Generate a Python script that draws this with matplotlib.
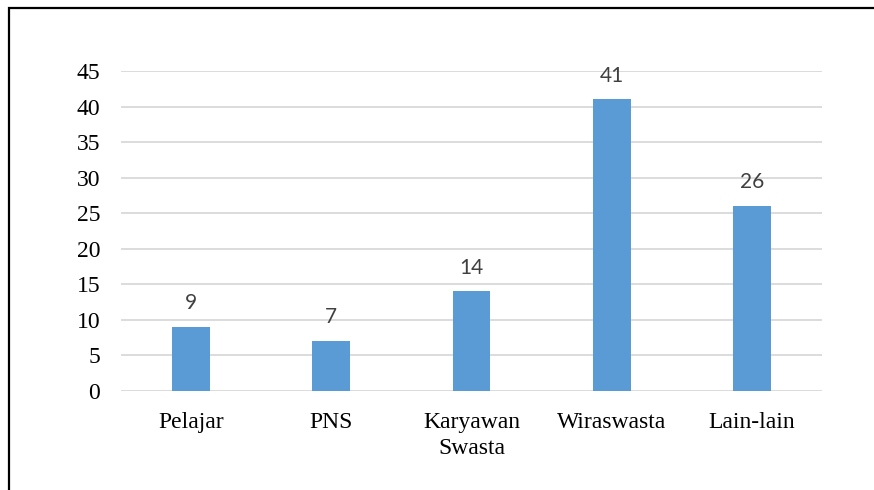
import matplotlib
matplotlib.use("Agg")
import matplotlib.pyplot as plt
from matplotlib.patches import Rectangle

categories = ["Pelajar", "PNS", "Karyawan\nSwasta", "Wiraswasta", "Lain-lain"]
values = [9, 7, 14, 41, 26]
y_ticks = [0, 5, 10, 15, 20, 25, 30, 35, 40, 45]

BAR_COLOR = "#5B9BD5"
GRID_COLOR = "#D9D9D9"

plt.rcParams["font.serif"] = ["Liberation Serif", "DejaVu Serif"]

fig = plt.figure(figsize=(8.74, 4.9), dpi=100)
ax = fig.add_axes([121 / 874, 99 / 490, 701 / 874, 320 / 490])

x = list(range(len(categories)))
ax.bar(x, values, width=0.27, color=BAR_COLOR, zorder=3)
for xi, v in zip(x, values):
    ax.annotate(str(v), (xi, v), xytext=(0, 10), textcoords="offset points",
                ha="center", va="bottom", fontsize=15, color="#404040",
                family=["Lato", "DejaVu Sans"])

ax.set_xlim(-0.5, len(categories) - 0.5)
ax.set_ylim(0, 45)
ax.set_yticks(y_ticks)
ax.set_xticks(x)
ax.set_xticklabels(categories, family="serif", fontsize=17,
                   linespacing=1.35, va="top")
ax.set_yticklabels([str(t) for t in y_ticks], family="serif", fontsize=17)
ax.tick_params(axis="both", length=0)
ax.tick_params(axis="y", pad=15)
ax.tick_params(axis="x", pad=15)
for s in ax.spines.values():
    s.set_visible(False)
ax.yaxis.grid(True, color=GRID_COLOR, lw=1.3, zorder=0)
ax.set_axisbelow(True)

# outer frame (right and bottom edges fall outside the image)
fig.patches.append(Rectangle((9 / 874, -0.1), 1.2, 1.1 - 8 / 490,
                             transform=fig.transFigure, fill=False,
                             edgecolor="black", lw=1.6))

fig.savefig("out.png", dpi=100)
